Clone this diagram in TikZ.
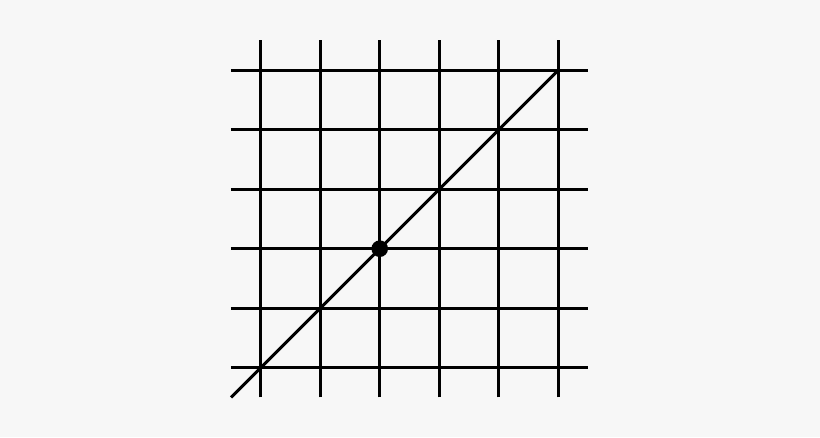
\documentclass[tikz,border=0pt]{standalone}
\definecolor{paper}{RGB}{247,247,247}
\begin{document}
\begin{tikzpicture}[
gridline/.style={line width=1.42pt},
diag/.style={line width=1.42pt},
point/.style={circle,fill=black,inner sep=0,minimum size=0.28cm},
]
\fill[paper](-4.382,-1.165)rectangle(9.400,6.180);
\useasboundingbox(-4.382,-1.165)rectangle(9.400,6.180);

%vertical
\draw[gridline](0,-0.5)--(0,5.5);
\draw[gridline](1,-0.5)--(1,5.5);
\draw[gridline](2,-0.5)--(2,5.5);
\draw[gridline](3,-0.5)--(3,5.5);
\draw[gridline](4,-0.5)--(4,5.5);
\draw[gridline](5,-0.5)--(5,5.5);
%horizontal
\draw[gridline](-0.5,0)--(5.5,0);
\draw[gridline](-0.5,1)--(5.5,1);
\draw[gridline](-0.5,2)--(5.5,2);
\draw[gridline](-0.5,3)--(5.5,3);
\draw[gridline](-0.5,4)--(5.5,4);
\draw[gridline](-0.5,5)--(5.5,5);

%diagonal
\coordinate(start)at(-0.5,-0.5);
\coordinate(end)at(5,5);
\draw[diag](start)--(end);
\node[point](dot)at(2,2){};

\end{tikzpicture}
\end{document}
